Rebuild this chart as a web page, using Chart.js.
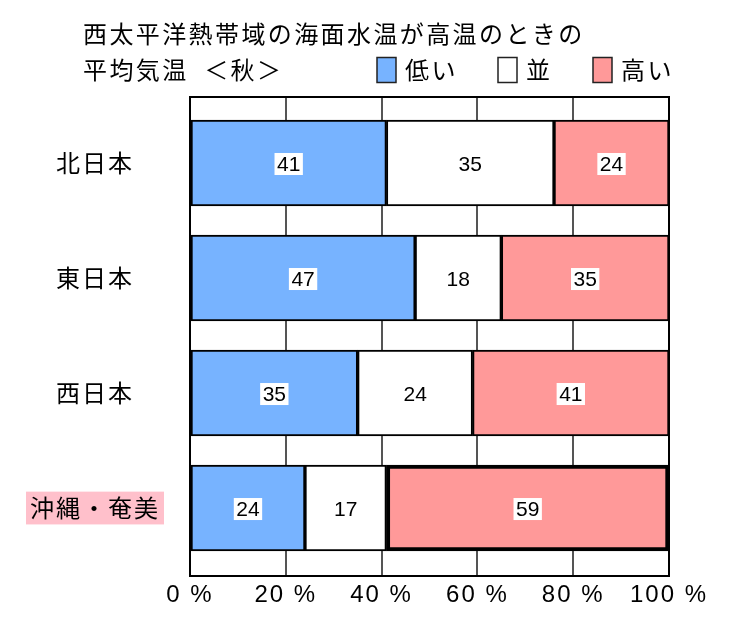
<!DOCTYPE html>
<html>
<head>
<meta charset="utf-8">
<script src="https://cdn.jsdelivr.net/npm/chart.js@4.4.1/dist/chart.umd.min.js"></script>
<style>
  html, body { margin: 0; padding: 0; background: #fff; }
  #wrap { width: 750px; height: 640px; }
</style>
</head>
<body>
<div id="wrap"><canvas id="c" width="750" height="640"></canvas></div>
<script>
// ---- data ----
const categories = ['北日本', '東日本', '西日本', '沖縄・奄美'];
const seriesNames = ['低い', '並', '高い'];
const lowValues = [41, 47, 35, 24];
const normalValues = [35, 18, 24, 17];
const highValues = [24, 35, 41, 59];
const xTickValues = [0, 20, 40, 60, 80, 100];
const titleLines = ['西太平洋熱帯域の海面水温が高温のときの', '平均気温  ＜秋＞'];
const highlightCategory = '沖縄・奄美';
const highlightSeries = '高い';

// ---- styles ----
const seriesColors = ['#77B3FF', '#FFFFFF', '#FF9999'];
const JP = '"Noto Sans CJK JP", "Liberation Sans", sans-serif';
const NUM = '"Liberation Sans", Arial, sans-serif';

const hiIdx = categories.indexOf(highlightCategory);
const valueSets = [lowValues, normalValues, highValues];

const datasets = seriesNames.map((name, s) => ({
  label: name,
  data: valueSets[s].map((v, i) => ({ x: v, y: i })),
  backgroundColor: seriesColors[s],
  borderColor: '#000',
  borderWidth: (ctx) => (name === highlightSeries && ctx.dataIndex === hiIdx) ? 4 : 2,
  borderSkipped: false,
  barThickness: 86
}));

const spacingPlugin = {
  id: 'spacing',
  beforeDraw(chart) { chart.ctx.letterSpacing = '2px'; }
};

const framePlugin = {
  id: 'frame',
  beforeDatasetsDraw(chart) {
    const { ctx, chartArea: a } = chart;
    ctx.save();
    ctx.strokeStyle = '#000';
    ctx.lineWidth = 2;
    ctx.strokeRect(a.left, a.top, a.right - a.left, a.bottom - a.top);
    ctx.restore();
  }
};

const labelPlugin = {
  id: 'vlabels',
  afterDatasetsDraw(chart) {
    const { ctx } = chart;
    ctx.save();
    ctx.letterSpacing = '0px';
    ctx.font = '21px ' + NUM;
    ctx.textAlign = 'center';
    ctx.textBaseline = 'middle';
    chart.data.datasets.forEach((ds, s) => {
      const meta = chart.getDatasetMeta(s);
      meta.data.forEach((el, i) => {
        const txt = String(valueSets[s][i]);
        const cx = (el.x + el.base) / 2;
        const cy = el.y + 1;
        if (seriesColors[s] !== '#FFFFFF') {
          const w = ctx.measureText(txt).width + 5;
          ctx.fillStyle = '#fff';
          ctx.fillRect(cx - w / 2, cy - 11, w, 22);
        }
        ctx.fillStyle = '#000';
        ctx.fillText(txt, cx, cy + 1);
      });
    });
    ctx.restore();
  }
};

const headerPlugin = {
  id: 'header',
  afterDraw(chart) {
    const { ctx } = chart;
    ctx.save();
    ctx.fillStyle = '#000';
    ctx.textBaseline = 'middle';
    ctx.textAlign = 'left';
    ctx.letterSpacing = '2.4px';
    ctx.font = '24px ' + JP;
    ctx.fillText(titleLines[0], 83, 34);
    ctx.fillText(titleLines[1], 83, 70);
    const legendX = [377, 498, 593];
    seriesNames.forEach((name, s) => {
      const x = legendX[s];
      ctx.fillStyle = seriesColors[s];
      ctx.fillRect(x, 57.5, 19, 25);
      ctx.strokeStyle = '#222';
      ctx.lineWidth = 1.5;
      ctx.strokeRect(x, 57.5, 19, 25);
      ctx.fillStyle = '#000';
      ctx.fillText(name, x + 28, 70);
    });
    ctx.restore();
  }
};

new Chart(document.getElementById('c'), {
  type: 'bar',
  data: { datasets },
  options: {
    indexAxis: 'y',
    responsive: false,
    animation: false,
    devicePixelRatio: 1,
    layout: { padding: { top: 97, right: 81, left: 0, bottom: 0 } },
    plugins: { legend: { display: false }, title: { display: false }, tooltip: { enabled: false } },
    scales: {
      x: {
        type: 'linear',
        stacked: true,
        min: 0, max: 100,
        afterBuildTicks: (scale) => { scale.ticks = xTickValues.map(v => ({ value: v })); },
        ticks: {
          callback: (v) => v + ' %',
          font: { size: 24, family: NUM },
          color: '#000',
          padding: 5,
          maxRotation: 0
        },
        grid: { color: '#555', lineWidth: 2, drawTicks: false },
        border: { display: false },
        afterFit: (scale) => { scale.height = 64; }
      },
      y: {
        type: 'linear',
        stacked: true,
        reverse: true,
        bounds: 'data',
        offset: false,
        min: -0.574,
        max: 3.591,
        afterBuildTicks: (scale) => { scale.ticks = categories.map((c, i) => ({ value: i })); },
        ticks: {
          autoSkip: false,
          crossAlign: 'center',
          padding: 27,
          callback: (v) => categories[Math.round(v)] ?? '',
          font: { size: 24, family: JP },
          color: '#000',
          showLabelBackdrop: true,
          backdropColor: (ctx) => (ctx.tick && categories[ctx.tick.value] === highlightCategory) ? '#FFC0CB' : 'rgba(0,0,0,0)',
          backdropPadding: { x: 9, y: 2 }
        },
        grid: { display: false, offset: false },
        border: { display: false },
        afterFit: (scale) => { scale.width = 190; }
      }
    }
  },
  plugins: [spacingPlugin, framePlugin, labelPlugin, headerPlugin]
});
</script>
</body>
</html>
